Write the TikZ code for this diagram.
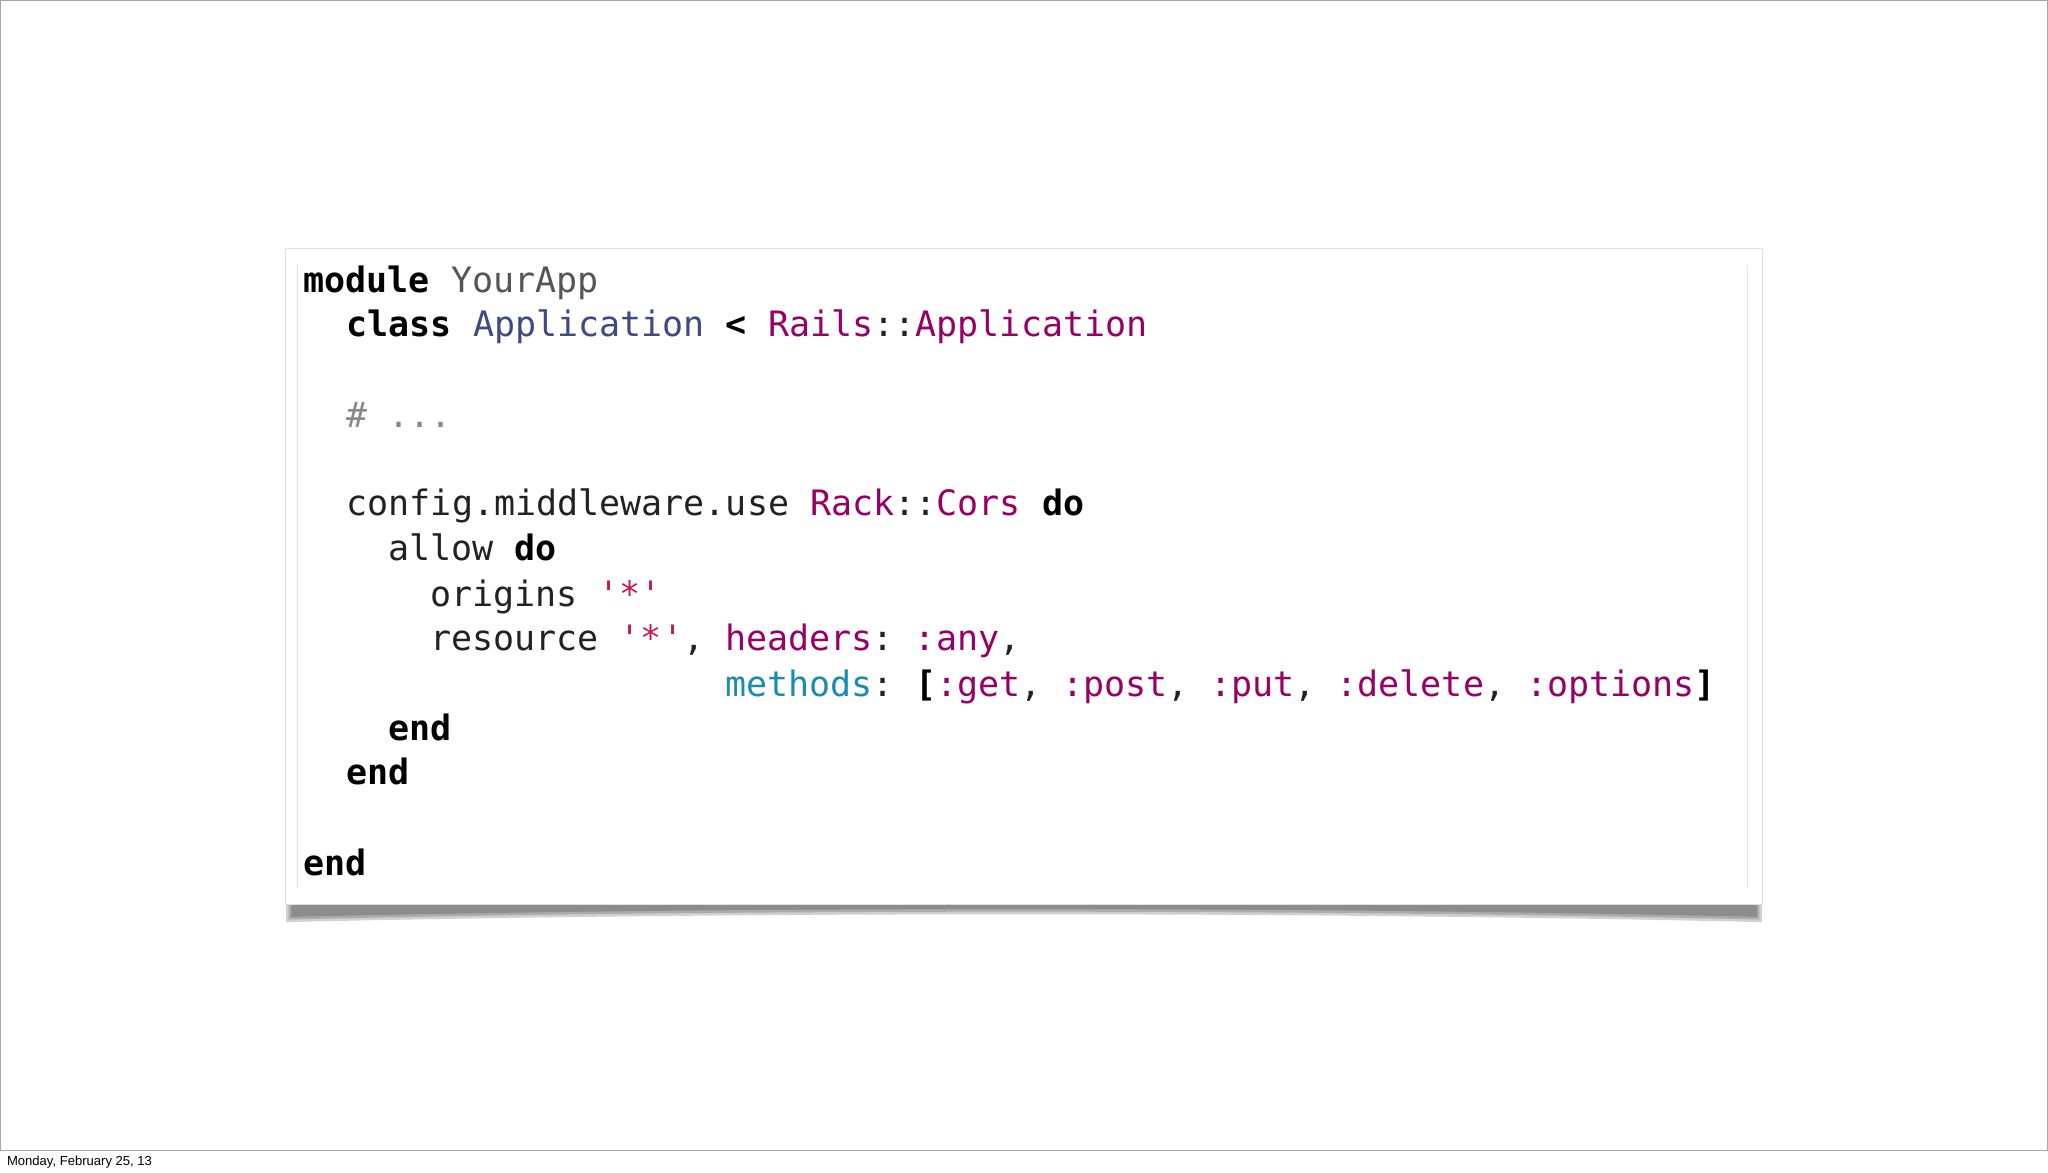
\documentclass[tikz,border=0pt]{standalone}
\usepackage{fontspec}
\setmonofont{DejaVu Sans Mono}
\newfontfamily\footfont{Liberation Sans}
\definecolor{kw}{HTML}{000000}
\definecolor{cn}{HTML}{3D4A85}
\definecolor{pu}{HTML}{990066}
\definecolor{gy}{HTML}{555555}
\definecolor{cm}{HTML}{888888}
\definecolor{st}{HTML}{C4195A}
\definecolor{te}{HTML}{1A8BB3}
\definecolor{tx}{HTML}{222222}
\tikzset{codeline/.style={anchor=base west,inner sep=0pt,font=\ttfamily\fontsize{13.4}{16}\selectfont,text=tx},
 shadowband/.style={fill=black,opacity=0.18}}
\newcommand{\kwb}[1]{\textbf{\color{kw}#1}}
\begin{document}
\begin{tikzpicture}[x=0.5pt,y=-0.5pt]
\useasboundingbox (0,0) rectangle (1568,898);
\fill[white] (0,0) rectangle (1568,898);
\draw[gray!70,line width=0.5pt] (0.5,0.5) rectangle (1567.5,881);
\node[anchor=base west,inner sep=0pt,font=\footfont\fontsize{5}{6}\selectfont] (foot) at (5,892) {Monday, February 25, 13};
% shadow
\foreach \d in {0,2,4}{
\fill[shadowband] (219+\d,688) -- (1349-\d,688) -- (1349-\d,706-\d) .. controls (1000,698-\d) and (560,698-\d) .. (219+\d,706-\d) -- cycle;}
\node[draw=black!12,fill=white,minimum width=565.5pt,minimum height=251pt,inner sep=0pt,anchor=north west] (box) at (218,190) {};
\draw[black!10] (1338,203) -- (1338,680);
\draw[black!12] (228,203) -- (228,680);
\node[codeline] (l1) at (232,224) {\kwb{module} {\color{gy}YourApp}};
\node[codeline] (l2) at (265,258) {\kwb{class} {\color{cn}Application} \kwb{<} {\color{pu}Rails}::{\color{pu}Application}};
\node[codeline] (l3) at (265,327) {{\color{cm}\# ...}};
\node[codeline] (l4) at (265,395) {config.middleware.use {\color{pu}Rack}::{\color{pu}Cors} \kwb{do}};
\node[codeline] (l5) at (297,429) {allow \kwb{do}};
\node[codeline] (l6) at (329,464) {origins {\color{st}'*'}};
\node[codeline] (l7) at (329,498) {resource {\color{st}'*'}, {\color{pu}headers}: {\color{pu}:any},};
\node[codeline] (l8) at (555,533) {{\color{te}methods}: \kwb{[}{\color{pu}:get}, {\color{pu}:post}, {\color{pu}:put}, {\color{pu}:delete}, {\color{pu}:options}\kwb{]}};
\node[codeline] (l9) at (297,567) {\kwb{end}};
\node[codeline] (l10) at (265,601) {\kwb{end}};
\node[codeline] (l11) at (232,670) {\kwb{end}};
\end{tikzpicture}
\end{document}
